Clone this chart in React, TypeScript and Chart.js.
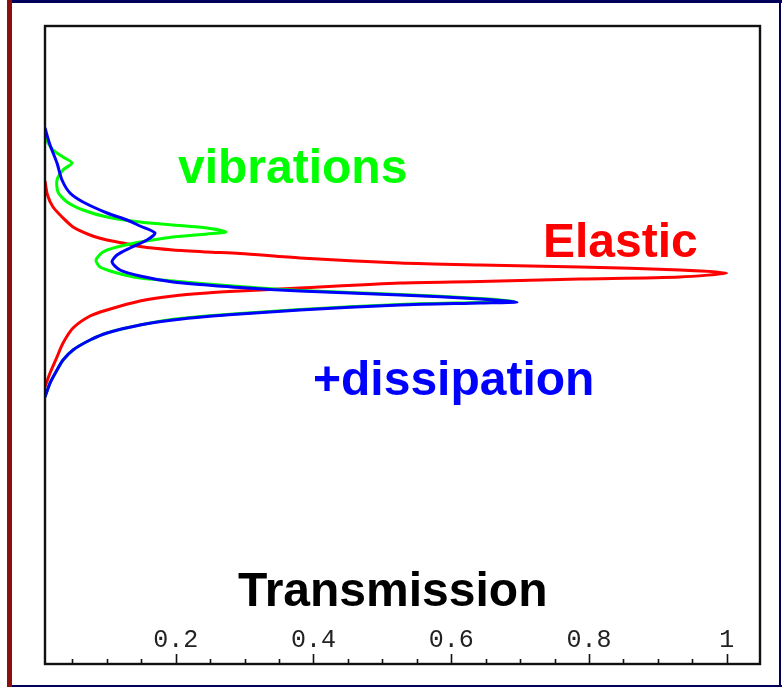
import React, { useEffect, useRef } from "react";
import { Chart, registerables } from "chart.js";

Chart.register(...registerables);

// Energy axis (arbitrary units, bottom = 0, top = 10), transmission on x.
const elasticT = [0.0102, 0.0138, 0.0218, 0.0364, 0.0509, 0.0756, 0.1002, 0.1235, 0.1482, 0.1961, 0.2454, 0.2933, 0.3805, 0.5257, 0.6419, 0.787, 0.9322, 1.0, 0.9322, 0.787, 0.6419, 0.5257, 0.3805, 0.2933, 0.2454, 0.1961, 0.1482, 0.1002, 0.0756, 0.0509, 0.0364, 0.0276, 0.0175, 0.0102];
const elasticE = [7.571, 7.351, 7.163, 6.991, 6.85, 6.724, 6.646, 6.599, 6.543, 6.489, 6.458, 6.435, 6.364, 6.285, 6.254, 6.223, 6.176, 6.129, 6.066, 6.034, 5.995, 5.972, 5.893, 5.846, 5.815, 5.768, 5.69, 5.549, 5.455, 5.266, 5.031, 4.812, 4.561, 4.342];

const vibT = [0.0102, 0.0218, 0.0364, 0.0494, 0.0364, 0.0276, 0.0291, 0.0422, 0.0654, 0.1002, 0.1482, 0.1961, 0.2454, 0.273, 0.2454, 0.1961, 0.1482, 0.1148, 0.0944, 0.0843, 0.0901, 0.1148, 0.1482, 0.1961, 0.2454, 0.2933, 0.3805, 0.5257, 0.6419, 0.693, 0.6419, 0.5257, 0.3805, 0.2933, 0.2454, 0.1961, 0.1482, 0.1002, 0.0756, 0.0509, 0.0364, 0.0276, 0.0175, 0.0102];
const vibE = [8.245, 8.056, 7.947, 7.853, 7.743, 7.586, 7.398, 7.241, 7.116, 7.006, 6.928, 6.881, 6.834, 6.771, 6.74, 6.693, 6.614, 6.536, 6.458, 6.332, 6.223, 6.129, 6.05, 6.003, 5.956, 5.917, 5.854, 5.792, 5.729, 5.682, 5.666, 5.635, 5.557, 5.494, 5.455, 5.402, 5.313, 5.188, 5.078, 4.922, 4.765, 4.608, 4.404, 4.185];

const dissT = [0.0102, 0.0175, 0.0276, 0.0349, 0.0465, 0.0654, 0.1002, 0.1293, 0.1482, 0.1699, 0.1583, 0.1336, 0.1148, 0.1075, 0.1191, 0.1482, 0.1961, 0.2454, 0.2933, 0.3805, 0.5257, 0.6419, 0.6955, 0.6419, 0.5257, 0.3805, 0.2933, 0.2454, 0.1961, 0.1482, 0.1002, 0.0756, 0.0509, 0.0364, 0.0276, 0.0175, 0.0102];
const dissE = [8.401, 8.135, 7.853, 7.586, 7.382, 7.241, 7.069, 6.959, 6.865, 6.755, 6.646, 6.52, 6.411, 6.301, 6.176, 6.082, 5.987, 5.94, 5.9, 5.846, 5.784, 5.721, 5.674, 5.658, 5.627, 5.549, 5.486, 5.447, 5.392, 5.313, 5.188, 5.078, 4.922, 4.765, 4.608, 4.404, 4.185];

const majorTicks = [0.2, 0.4, 0.6, 0.8, 1.0];
const tickLabels = ["0.2", "0.4", "0.6", "0.8", "1"];
const minorTicks = [0.05, 0.1, 0.15, 0.25, 0.3, 0.35, 0.45, 0.5, 0.55, 0.65, 0.7, 0.75, 0.85, 0.9, 0.95];

const seriesNames = ["+dissipation", "vibrations", "Elastic"];
const axisTitle = "Transmission";

const toPoints = (xs: number[], ys: number[]) => xs.map((x, i) => ({ x, y: ys[i] }));

const framePlugin = {
  id: "framePlugin",
  afterDraw(chart: any) {
    const { ctx, chartArea } = chart;
    const xs = chart.scales.x;
    const { left, right, top, bottom } = chartArea;
    ctx.save();
    // frame
    ctx.strokeStyle = "#111";
    ctx.lineWidth = 2.4;
    ctx.strokeRect(left, top, right - left, bottom - top);
    // ticks
    ctx.lineWidth = 1.6;
    ctx.beginPath();
    majorTicks.forEach((v) => {
      const px = Math.round(xs.getPixelForValue(v)) + 0.5;
      ctx.moveTo(px, bottom);
      ctx.lineTo(px, bottom - 10);
    });
    minorTicks.forEach((v) => {
      const px = Math.round(xs.getPixelForValue(v)) + 0.5;
      ctx.moveTo(px, bottom);
      ctx.lineTo(px, bottom - 5);
    });
    ctx.stroke();
    // tick labels
    ctx.fillStyle = "#222";
    ctx.font = "25px 'Liberation Mono', 'Courier New', monospace";
    ctx.textAlign = "center";
    ctx.textBaseline = "alphabetic";
    majorTicks.forEach((v, i) => {
      ctx.fillText(tickLabels[i], xs.getPixelForValue(v), bottom - 17);
    });
    // annotations
    ctx.textAlign = "left";
    ctx.font = "bold 48px 'Liberation Sans', Arial, sans-serif";
    ctx.fillStyle = "#00FF00";
    ctx.fillText(seriesNames[1], left + 133, top + 157);
    ctx.fillStyle = "#FF0000";
    ctx.fillText(seriesNames[2], left + 498, top + 231);
    ctx.fillStyle = "#0000FF";
    ctx.fillText(seriesNames[0], left + 268, top + 369);
    ctx.fillStyle = "#000000";
    ctx.fillText(axisTitle, left + 193, top + 580);
    ctx.restore();
  },
};

export default function App() {
  const ref = useRef<HTMLCanvasElement | null>(null);
  useEffect(() => {
    if (!ref.current) return;
    const chart = new Chart(ref.current, {
      type: "scatter",
      data: {
        datasets: [
          { label: seriesNames[0], data: toPoints(dissT, dissE), borderColor: "#0000FF", backgroundColor: "#0000FF", showLine: true, borderWidth: 3, pointRadius: 0, tension: 0.25 },
          { label: seriesNames[1], data: toPoints(vibT, vibE), borderColor: "#00FF00", backgroundColor: "#00FF00", showLine: true, borderWidth: 3, pointRadius: 0, tension: 0.25 },
          { label: seriesNames[2], data: toPoints(elasticT, elasticE), borderColor: "#FF0000", backgroundColor: "#FF0000", showLine: true, borderWidth: 3, pointRadius: 0, tension: 0.25 },
        ],
      },
      options: {
        animation: false,
        responsive: false,
        devicePixelRatio: 1,
        layout: { padding: { left: 45, top: 26, right: 22, bottom: 23 } },
        plugins: { legend: { display: false }, tooltip: { enabled: false } },
        scales: {
          x: { type: "linear", min: 0.0102, max: 1.0483, display: false },
          y: { type: "linear", min: 0, max: 10, display: false },
        },
      },
      plugins: [framePlugin],
    });
    return () => chart.destroy();
  }, []);

  return (
    <div style={{ position: "absolute", left: 0, top: 0, width: 782, height: 687, background: "#fff", overflow: "hidden" }}>
      <canvas ref={ref} width={782} height={687} style={{ position: "absolute", left: 0, top: 0, width: 782, height: 687 }} />
      <div style={{ position: "absolute", left: 7, top: 0, width: 5, height: 687, background: "#8c0f0f" }} />
      <div style={{ position: "absolute", left: 12, top: 0, width: 770, height: 3, background: "#00005a" }} />
      <div style={{ position: "absolute", left: 779, top: 0, width: 2, height: 687, background: "#00005a" }} />
      <div style={{ position: "absolute", left: 12, top: 685, width: 770, height: 2, background: "#00005a" }} />
    </div>
  );
}
